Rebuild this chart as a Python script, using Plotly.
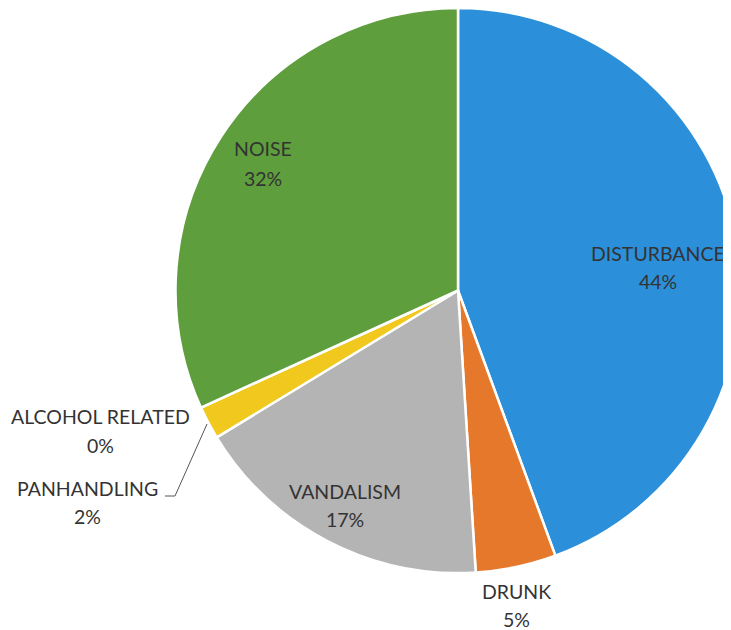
import plotly.graph_objects as go

categories = ["DISTURBANCE", "DRUNK", "VANDALISM", "PANHANDLING", "ALCOHOL RELATED", "NOISE"]
values = [44.4, 4.6, 17.3, 1.9, 0.0, 31.8]
colors = ["#2B8FD9", "#E5782A", "#B4B4B4", "#F0C81E", "#2F4F8F", "#5E9E3C"]

# The page body adds an 8px margin; the figure is drawn a little wider than
# the window so the pie runs off the right edge as in the reference.
W, H = 760, 630
OFF = 8  # body margin

# label line centres in window pixels: (x, name_y, percent_y) -- layout only
label_pos = {
    "DISTURBANCE": (658, 253, 280.5),
    "NOISE": (262.5, 147.5, 177.5),
    "VANDALISM": (345, 490.5, 518.5),
    "DRUNK": (516.5, 590, 618),
    "ALCOHOL RELATED": (100.5, 415.5, 444),
    "PANHANDLING": (87.5, 487.5, 515.5),
}

total = sum(values)
pct = [f"{round(100 * v / total)}%" for v in values]


def px2paper(x, y):
    return (x - OFF) / W, 1 - (y - OFF) / H


# pie: centre (458, 290.5), radius 282.5 in window pixels
cx, cy, R = 458 - OFF, 290.5 - OFF, 282.5
fig = go.Figure(go.Pie(
    labels=categories,
    values=values,
    sort=False,
    direction="clockwise",
    rotation=0,
    marker=dict(colors=colors, line=dict(color="white", width=2.5)),
    textinfo="none",
    domain=dict(x=[(cx - R) / W, (cx + R) / W],
                y=[max(0, 1 - (cy + R) / H), min(1, 1 - (cy - R) / H)]),
    showlegend=False,
    hoverinfo="label+percent",
))

font = dict(family="Lato, Open Sans, sans-serif", size=19.5, color="#333333")
for cat, p in zip(categories, pct):
    lx, ny, py = label_pos[cat]
    for txt, ty in ((cat, ny), (p, py)):
        ax, ay = px2paper(lx, ty + 1)
        fig.add_annotation(
            x=ax, y=ay, xref="paper", yref="paper",
            text=txt, showarrow=False, font=font,
            xanchor="center", yanchor="middle", align="center",
        )

# leader line for PANHANDLING
leader = [(165, 496), (175, 496), (207, 424)]
for (x0, y0), (x1, y1) in zip(leader[:-1], leader[1:]):
    a0, b0 = px2paper(x0, y0)
    a1, b1 = px2paper(x1, y1)
    fig.add_shape(type="line", xref="paper", yref="paper",
                  x0=a0, y0=b0, x1=a1, y1=b1,
                  line=dict(color="#555555", width=1))

fig.update_layout(
    width=W, height=H,
    margin=dict(l=0, r=0, t=0, b=0),
    paper_bgcolor="white",
)

fig.write_html("out.html")
